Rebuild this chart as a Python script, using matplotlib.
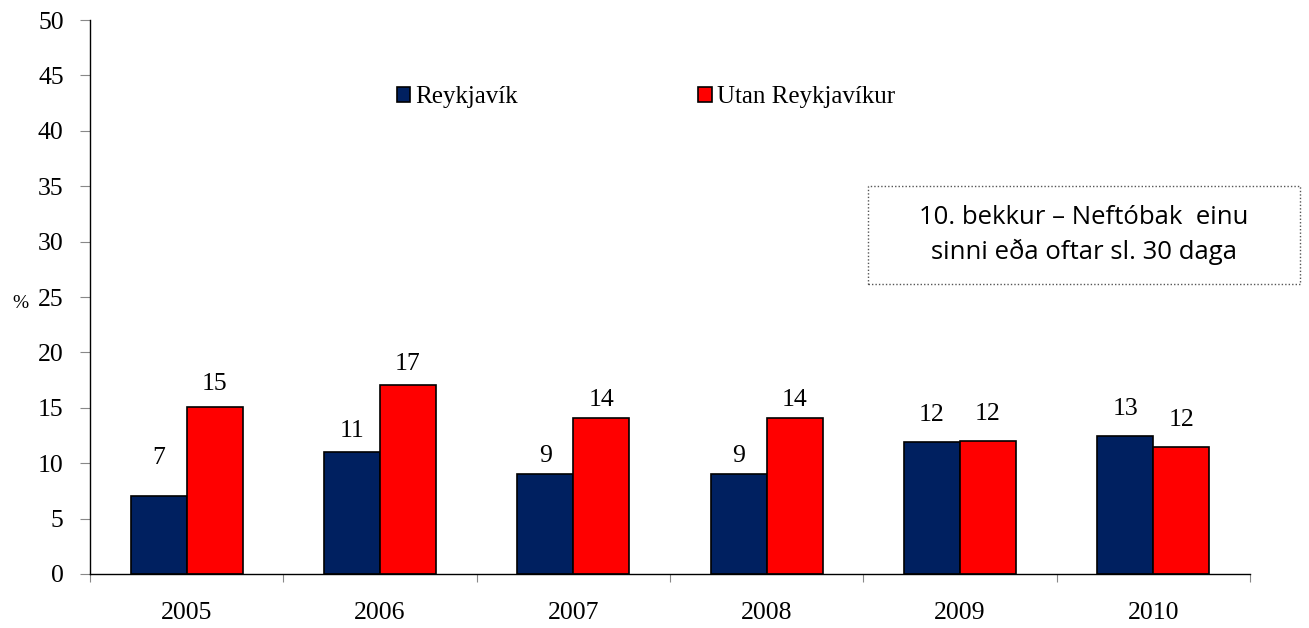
import matplotlib.pyplot as plt
from matplotlib.patches import Rectangle, Patch
import numpy as np

years = ["2005", "2006", "2007", "2008", "2009", "2010"]
reykjavik = [7.0, 11.0, 9.0, 9.0, 11.9, 12.5]
utan = [15.1, 17.05, 14.1, 14.1, 12.0, 11.5]
reykjavik_labels = ["7", "11", "9", "9", "12", "13"]
utan_labels = ["15", "17", "14", "14", "12", "12"]

# label offsets above bar tops (pixels), as placed in the original
blue_off = [38, 21, 18, 18, 27, 27]
red_off = [23, 21, 18, 18, 27, 27]

serif = "Liberation Serif"
navy = "#002060"
red = "#FF0000"

fig = plt.figure(figsize=(13.09, 6.28), dpi=100)
ax = fig.add_axes([0.0688, 0.086, 0.886, 0.882])

x = np.arange(len(years))
w = 0.29
ax.bar(x - w / 2, reykjavik, w, color=navy, edgecolor="black", linewidth=1.2)
ax.bar(x + w / 2, utan, w, color=red, edgecolor="black", linewidth=1.2)

for i in range(len(years)):
    ax.annotate(reykjavik_labels[i], (x[i] - w / 2, reykjavik[i]), xytext=(0, blue_off[i]),
                textcoords="offset pixels", ha="center", va="center",
                fontsize=18.5, family=serif)
    ax.annotate(utan_labels[i], (x[i] + w / 2, utan[i]), xytext=(0, red_off[i]),
                textcoords="offset pixels", ha="center", va="center",
                fontsize=18.5, family=serif)

ax.set_xlim(-0.5, len(years) - 0.5)
ax.set_ylim(0, 50)
ax.set_yticks(range(0, 51, 5))
ax.set_xticks(x)
ax.set_xticklabels(years)
ax.set_xticks(np.arange(-0.5, len(years), 1), minor=True)
ax.tick_params(axis="x", which="major", length=0, pad=20)
ax.tick_params(axis="x", which="minor", length=6, width=0.8, color="#888888")
ax.tick_params(axis="y", length=7, width=0.8, color="#888888", pad=12)
for lab in ax.get_xticklabels() + ax.get_yticklabels():
    lab.set_family(serif)
    lab.set_fontsize(18.5)

ax.spines["top"].set_visible(False)
ax.spines["right"].set_visible(False)
ax.spines["left"].set_linewidth(1)
ax.spines["bottom"].set_linewidth(1)

fig.text(0.0155, 0.517, "%", family=serif, fontsize=14, ha="center", va="center")

handles = [Patch(facecolor=navy, edgecolor="black", linewidth=1.2),
           Patch(facecolor=red, edgecolor="black", linewidth=1.2)]
fig.legend(handles, ["Reykjavík", "Utan Reykjavíkur"], ncol=2, frameon=False,
           loc="center left", bbox_to_anchor=(0.303, 0.8455),
           prop={"family": serif, "size": 18},
           handlelength=0.55, handleheight=0.55, handletextpad=0.2,
           columnspacing=7.2, borderaxespad=0, borderpad=0)

fig.add_artist(Rectangle((0.663, 0.548), 0.330, 0.156, transform=fig.transFigure,
                         fill=False, edgecolor="#555555", linestyle=(0, (1, 1.5)),
                         linewidth=1))
fig.text(0.828, 0.626, "10. bekkur \u2013 Neftóbak  einu\nsinni eða oftar sl. 30 daga",
         family="Open Sans", fontsize=18.5, ha="center", va="center", linespacing=1.42)

fig.savefig("out.png", dpi=100)
